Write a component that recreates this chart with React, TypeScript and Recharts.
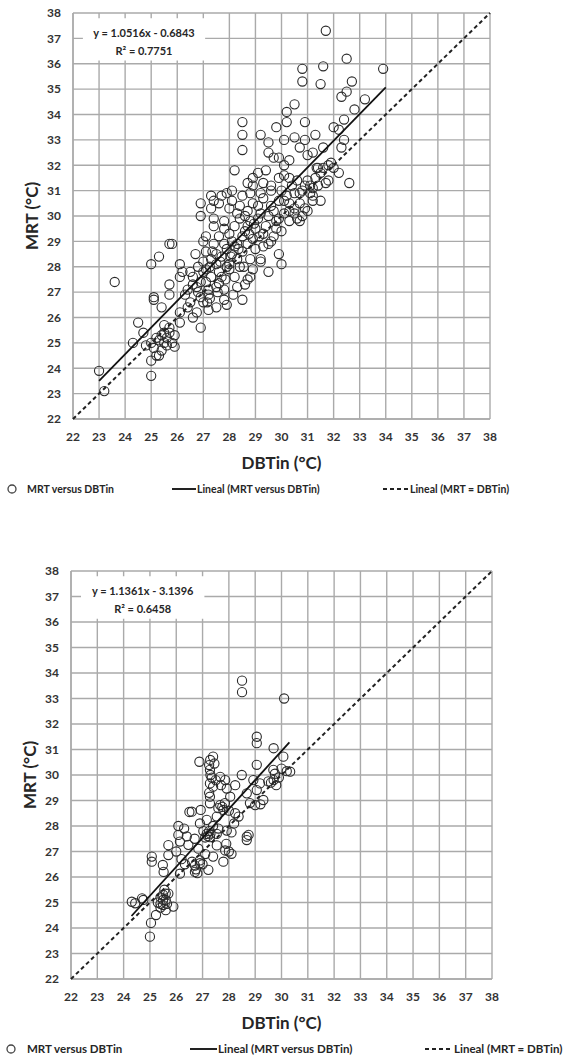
import React from "react";
import {
  ScatterChart, Scatter, XAxis, YAxis, CartesianGrid, ReferenceArea,
} from "recharts";

// axis ticks (both axes share the same scale)
const axisTicks = [22, 23, 24, 25, 26, 27, 28, 29, 30, 31, 32, 33, 34, 35, 36, 37, 38];

// panel 1: all observations, [DBTin, MRT]
const pointsAll: [number, number][] = [
  [31.7, 37.3], [32.5, 36.2], [33.9, 35.8], [30.8, 35.8], [31.6, 35.9], [30.8, 35.3], [31.5, 35.2], [32.7, 35.3],
  [32.5, 34.9], [32.3, 34.7], [33.2, 34.6], [32.8, 34.2], [30.5, 34.4], [30.2, 34.1], [32.4, 33.8], [28.5, 33.7],
  [28.5, 33.2], [28.5, 32.6], [30.2, 33.7], [29.8, 33.5], [30.9, 33.7], [29.2, 33.2], [29.5, 32.9], [30.1, 33.0],
  [30.5, 33.1], [30.9, 33.0], [31.3, 33.2], [32.0, 33.5], [32.2, 33.4], [32.4, 33.0], [32.3, 32.7], [29.5, 32.5],
  [29.7, 32.3], [29.9, 32.3], [30.3, 32.2], [30.7, 32.7], [31.0, 32.4], [31.2, 32.5], [31.6, 32.7], [31.9, 32.1],
  [32.0, 31.9], [32.2, 31.7], [31.6, 31.9], [31.4, 31.9], [28.2, 31.8], [28.1, 31.0], [27.7, 30.8], [27.4, 30.6],
  [26.9, 30.5], [26.9, 30.0], [28.7, 31.3], [29.1, 31.7], [29.4, 31.8], [30.1, 31.6], [30.6, 31.4], [30.9, 31.2],
  [31.2, 31.1], [31.5, 30.6], [32.6, 31.3], [30.5, 30.9], [30.1, 30.6], [28.9, 31.2], [29.2, 30.9], [29.6, 31.2],
  [28.5, 30.8], [28.4, 30.4], [31.8, 31.4], [31.1, 31.2], [31.2, 30.8], [30.3, 31.5], [29.9, 31.5], [30.7, 30.9],
  [30.3, 30.5], [30.1, 30.1], [30.5, 30.1], [30.7, 29.8], [31.0, 30.2], [30.1, 32.0], [31.35, 31.9],
  [25.0, 25.0], [25.1, 24.8], [25.2, 25.2], [25.3, 25.1], [25.4, 25.3], [25.5, 25.0], [25.5, 25.4], [25.6, 25.2],
  [25.6, 24.9], [25.7, 25.4], [25.8, 25.0], [25.4, 24.7], [25.3, 24.5], [25.9, 25.3], [25.9, 24.85], [25.7, 25.6],
  [25.5, 25.7], [24.3, 25.0], [24.5, 25.8], [24.7, 25.4], [24.8, 24.9], [25.0, 24.3], [25.0, 23.7], [25.2, 24.5],
  [23.0, 23.9], [23.2, 23.1], [23.6, 27.4], [25.0, 28.1], [25.3, 28.4], [25.7, 28.9], [25.8, 28.9], [25.1, 26.8],
  [25.1, 26.7], [25.4, 26.4], [25.7, 27.3], [25.7, 26.9], [26.1, 28.1], [26.2, 27.8], [26.1, 27.6], [26.1, 25.8],
  [26.1, 26.2], [26.5, 26.6], [26.4, 27.1], [26.6, 27.6], [26.75, 27.2], [26.9, 25.6], [26.75, 26.2], [26.7, 28.5],
  [27.0, 26.6], [27.2, 26.3], [27.25, 26.75], [27.5, 26.4], [27.8, 26.7], [28.15, 26.9], [28.5, 26.7], [27.8, 27.1],
  [28.0, 27.9], [28.8, 27.6], [28.7, 27.5], [29.5, 27.8], [30.0, 28.1], [29.2, 28.3], [29.2, 28.2],
  [27.1, 29.2], [27.4, 29.6], [27.8, 29.8], [28.3, 30.1], [28.7, 30.2], [29.1, 30.4], [29.6, 30.4], [30.7, 30.5],
  [30.8, 30.0], [30.3, 30.2], [31.2, 30.6], [27.8, 28.9], [27.5, 28.5], [28.2, 28.8], [28.5, 29.2], [28.9, 29.1],
  [29.3, 29.3], [29.7, 29.2], [29.8, 29.8], [28.7, 29.6], [28.0, 28.1], [27.6, 27.8], [28.3, 28.3], [27.25, 28.0],
  [27.1, 27.4], [27.6, 27.35], [26.8, 27.0], [26.9, 27.4], [27.0, 27.8], [27.0, 28.2], [27.1, 28.6], [27.2, 27.1],
  [27.3, 27.6], [27.3, 28.3], [27.4, 28.9], [27.4, 29.9], [27.5, 27.2], [27.5, 28.1], [27.6, 29.2], [27.7, 27.6],
  [27.7, 28.4], [27.8, 29.5], [27.9, 28.0], [27.9, 28.7], [28.0, 29.3], [28.0, 30.3], [28.1, 28.5], [28.1, 29.0],
  [28.2, 27.6], [28.2, 29.6], [28.3, 28.9], [28.4, 29.9], [28.4, 28.0], [28.5, 28.6], [28.6, 29.4], [28.6, 30.0],
  [28.7, 28.9], [28.8, 28.3], [28.8, 29.8], [28.9, 30.5], [29.0, 29.5], [29.0, 28.7], [29.1, 29.9], [29.2, 30.1],
  [29.3, 28.8], [29.3, 30.7], [29.4, 29.6], [29.5, 30.0], [29.6, 29.0], [29.6, 31.0], [29.7, 30.2], [29.8, 29.5],
  [29.9, 30.6], [29.9, 29.9], [30.0, 31.0], [30.0, 29.4], [30.2, 30.8], [30.3, 29.8], [30.4, 31.2], [30.5, 30.3],
  [30.6, 29.9], [30.8, 31.0], [30.9, 30.3], [31.0, 31.4], [31.1, 30.9], [31.3, 31.5], [31.4, 31.2], [31.5, 31.7],
  [31.7, 31.3], [31.8, 32.0], [29.9, 28.5], [29.5, 28.9], [28.9, 27.9], [28.6, 27.3], [28.3, 27.2], [27.9, 26.5],
  [27.2, 26.9], [26.6, 26.0], [26.4, 26.4], [27.0, 29.0], [26.8, 28.0], [26.5, 27.8], [27.3, 30.3], [27.6, 30.5],
  [28.1, 30.6], [28.8, 30.9], [29.3, 31.3], [28.9, 31.5], [27.9, 30.9], [27.3, 30.8],
  [26.3, 26.9], [26.6, 27.3], [26.9, 26.8], [27.1, 27.9], [27.35, 28.6], [27.65, 28.2], [27.85, 27.5], [28.05, 28.4],
  [28.35, 28.7], [28.55, 28.0], [28.75, 29.3], [28.95, 29.7], [29.15, 29.2], [27.55, 27.0], [27.15, 26.6],
];

// panel 2: subset of observations, [DBTin, MRT]
const pointsSubset: [number, number][] = [
  [28.5, 33.7], [28.5, 33.25], [30.1, 33.0], [29.06, 31.5], [29.06, 31.25], [29.7, 31.05], [30.07, 30.72], [30.33, 30.13],
  [29.69, 30.2], [29.75, 30.05], [29.06, 30.4], [26.88, 30.52], [27.29, 30.59], [27.4, 30.72], [27.25, 30.39], [27.28, 30.2],
  [27.67, 29.93], [27.86, 29.8], [27.28, 29.67], [27.4, 29.54], [27.92, 29.47], [28.49, 30.0], [28.24, 29.6], [28.93, 29.8],
  [29.18, 29.67], [29.06, 29.41], [28.68, 29.28], [29.31, 29.02], [29.0, 28.82], [28.05, 29.15], [27.28, 29.15], [27.67, 28.82],
  [27.79, 28.63], [27.28, 28.89], [26.59, 28.56], [26.93, 28.63], [28.24, 28.5], [28.37, 28.37], [27.54, 28.37], [27.16, 28.24],
  [26.9, 28.1], [26.08, 28.0], [26.08, 27.65], [26.4, 27.59], [26.14, 27.39], [26.46, 27.26], [25.7, 27.25], [25.7, 26.86],
  [25.07, 26.8], [25.07, 26.6], [25.49, 26.47], [25.52, 26.2], [26.14, 26.13], [26.33, 26.5], [26.71, 26.2], [26.71, 26.45],
  [26.9, 26.65], [26.84, 27.11], [27.16, 27.69], [27.03, 27.8], [27.28, 27.56], [27.54, 27.69], [27.92, 27.82], [28.1, 27.75],
  [27.54, 27.24], [27.86, 27.04], [28.1, 26.91], [27.79, 26.6], [27.4, 26.8], [27.22, 26.28], [26.9, 26.54], [28.68, 27.58],
  [28.75, 27.65], [28.68, 27.45], [24.31, 25.03], [24.44, 24.97], [24.7, 25.16], [24.75, 25.1], [25.3, 25.0], [25.4, 25.2],
  [25.5, 25.3], [25.5, 24.9], [25.6, 25.1], [25.6, 24.7], [25.7, 25.35], [25.4, 24.8], [25.55, 25.5], [25.89, 24.84],
  [25.23, 24.51], [25.04, 24.2], [25.0, 23.66], [29.6, 29.7], [29.7, 29.8], [29.8, 29.6], [29.5, 29.75], [29.9, 29.9],
  [27.2, 27.6], [27.25, 27.8], [27.3, 27.7], [27.1, 27.55], [27.35, 29.9], [27.5, 29.8], [27.7, 29.6], [27.6, 28.7],
  [27.75, 28.75], [27.85, 28.9], [28.0, 28.6], [26.75, 26.3], [26.8, 26.15], [27.0, 26.5], [27.1, 26.9], [26.6, 26.6],
  [27.9, 27.3], [28.0, 27.0], [28.2, 28.1], [27.4, 28.0], [27.6, 27.9], [27.45, 30.45], [27.3, 30.0], [30.2, 30.15],
  [30.0, 30.25], [28.8, 28.9], [29.2, 28.85], [25.4, 24.95], [25.5, 25.1], [25.6, 25.35], [25.65, 24.95], [26.2, 26.7],
  [26.0, 27.0], [26.7, 27.5], [26.3, 27.9], [26.5, 28.55], [27.25, 29.3],
];

// fitted lines (end points) and the 1:1 line
const fitAll: [number, number][] = [[23.0, 23.5], [34.0, 35.07]];
const fitSubset: [number, number][] = [[24.3, 24.47], [30.3, 31.28]];
const identityLine: [number, number][] = [[22, 22], [38, 38]];

const eqAll = ["y = 1.0516x - 0.6843", "R² = 0.7751"];
const eqSubset = ["y = 1.1361x - 3.1396", "R² = 0.6458"];

const legendLabels = ["MRT versus DBTin", "Lineal (MRT versus DBTin)", "Lineal (MRT = DBTin)"];

const FONT = "Lato, 'Open Sans', sans-serif";
const GRID = "#aaaaaa";
const INK = "#262626";

const toXY = (arr: [number, number][]) => arr.map(([x, y]) => ({ x, y }));

const OpenCircle = (props: any) => {
  const { cx, cy } = props;
  if (cx == null || cy == null) return <g />;
  return <circle cx={cx} cy={cy} r={4.6} fill="none" stroke="#2a2a2a" strokeWidth={1.1} />;
};

const NoDot = () => <g />;

interface PanelProps {
  top: number;
  height: number;
  yAxisWidth: number;
  marginRight: number;
  points: [number, number][];
  fit: [number, number][];
  eq: string[];
  titleOffset: number;
}

function Panel({ top, height, yAxisWidth, marginRight, points, fit, eq, titleOffset }: PanelProps) {
  const tickStyle = { fontSize: 12, fontWeight: 700, fill: "#333", fontFamily: FONT };
  return (
    <div style={{ position: "absolute", left: 0, top }}>
      <ScatterChart width={576} height={height} margin={{ top: 13, right: marginRight, bottom: 0, left: 0 }}>
        <CartesianGrid stroke={GRID} strokeWidth={1.4} />
        <XAxis
          type="number" dataKey="x" domain={[22, 38]} ticks={axisTicks} interval={0}
          height={57} tickSize={0} tickMargin={13} tick={tickStyle}
          axisLine={{ stroke: GRID, strokeWidth: 1.4 }}
          label={{ value: "DBTin (°C)", position: "insideBottom", offset: 7, fill: INK, fontSize: 17, fontWeight: 700, fontFamily: FONT }}
        />
        <YAxis
          type="number" dataKey="y" domain={[22, 38]} ticks={axisTicks} interval={0}
          width={yAxisWidth} tickSize={0} tickMargin={12} tick={tickStyle}
          axisLine={{ stroke: GRID, strokeWidth: 1.4 }}
          label={{ value: "MRT (°C)", angle: -90, position: "insideLeft", offset: titleOffset, fill: INK, fontSize: 17, fontWeight: 700, fontFamily: FONT, style: { textAnchor: "middle" } }}
        />
        <ReferenceArea
          x1={22.38} x2={27.07} y1={36.13} y2={37.79}
          fill="#fff" fillOpacity={1} stroke="none"
          label={(p: any) => {
            const vb = p.viewBox || {};
            const cx = vb.x + vb.width / 2;
            return (
              <g fontFamily={FONT} fontWeight={700} fontSize={11} fill={INK} textAnchor="middle">
                <text x={cx} y={vb.y + 19}>{eq[0]}</text>
                <text x={cx} y={vb.y + 37}>{eq[1]}</text>
              </g>
            );
          }}
        />
        <Scatter data={toXY(points)} shape={OpenCircle} isAnimationActive={false} />
        <Scatter data={toXY(fit)} shape={NoDot} line={{ stroke: "#111", strokeWidth: 1.8 }} isAnimationActive={false} />
        <Scatter data={toXY(identityLine)} shape={NoDot} line={{ stroke: "#222", strokeWidth: 2, strokeDasharray: "4 3" }} isAnimationActive={false} />
      </ScatterChart>
    </div>
  );
}

interface LegendProps {
  top: number;
  fontSize: number;
  circleX: number;
  textX: number;
  line: [number, number];
  dash: [number, number];
}

function ChartLegend({ top, fontSize, circleX, textX, line, dash }: LegendProps) {
  const text = { position: "absolute" as const, top: 0, fontSize, fontWeight: 700, fontFamily: FONT, color: INK, whiteSpace: "nowrap" as const, lineHeight: "14px" };
  return (
    <div style={{ position: "absolute", left: 0, top: top - 7, width: 576, height: 14 }}>
      <svg width={576} height={14} style={{ position: "absolute", left: 0, top: 0 }}>
        <circle cx={circleX} cy={7} r={4} fill="none" stroke="#444" strokeWidth={1.3} />
        <line x1={line[0]} x2={line[1]} y1={7} y2={7} stroke="#222" strokeWidth={2} />
        <line x1={dash[0]} x2={dash[1]} y1={7} y2={7} stroke="#222" strokeWidth={2} strokeDasharray="4 3" />
      </svg>
      <span style={{ ...text, left: textX }}>{legendLabels[0]}</span>
      <span style={{ ...text, left: line[1] + 1 }}>{legendLabels[1]}</span>
      <span style={{ ...text, left: dash[1] + 1 }}>{legendLabels[2]}</span>
    </div>
  );
}

export default function App() {
  return (
    <div style={{ position: "absolute", left: 0, top: 0, width: 576, height: 1060, background: "#fff" }}>
      <Panel top={0} height={476} yAxisWidth={73} marginRight={86} points={pointsAll} fit={fitAll} eq={eqAll} titleOffset={32} />
      <ChartLegend top={489} fontSize={10.5} circleX={12} textX={27} line={[172, 196]} dash={[383, 409]} />
      <Panel top={558} height={478} yAxisWidth={71} marginRight={84} points={pointsSubset} fit={fitSubset} eq={eqSubset} titleOffset={30} />
      <ChartLegend top={1049} fontSize={11.5} circleX={11} textX={27} line={[190, 217]} dash={[425, 453]} />
    </div>
  );
}
